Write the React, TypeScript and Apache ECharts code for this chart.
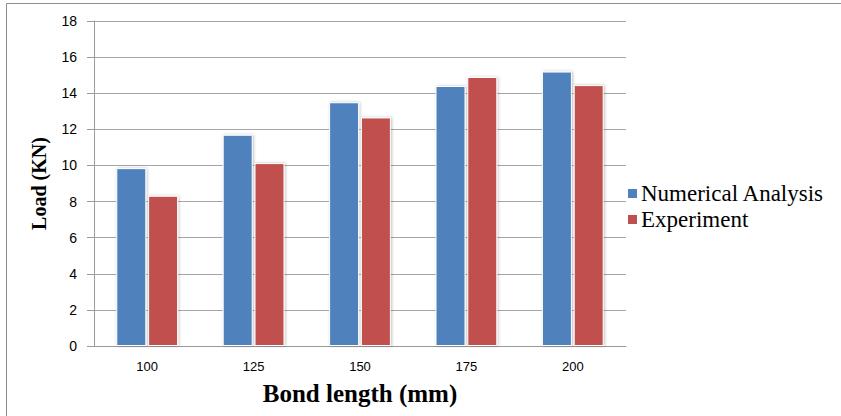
import React, { useEffect, useRef } from "react";
import * as echarts from "echarts";

const categories = ["100", "125", "150", "175", "200"];
const seriesNames = ["Numerical Analysis", "Experiment"];
const seriesColors = ["#4f81bd", "#c0504d"];
const numericalAnalysis = [9.85, 11.7, 13.5, 14.4, 15.2];
const experiment = [8.32, 10.13, 12.66, 14.9, 14.45];

const SERIF = "Liberation Serif";
const SANS = "Liberation Sans";

export default function App() {
  const ref = useRef<HTMLDivElement>(null);

  useEffect(() => {
    document.body.style.margin = "0";
    const chart = echarts.init(ref.current!, null, { renderer: "svg" });
    const barStyle = (color: string) => ({
      color,
      borderColor: "#ffffff",
      borderWidth: 1,
      shadowColor: "rgba(0,0,0,0.25)",
      shadowBlur: 3,
      shadowOffsetX: 1,
      shadowOffsetY: 0,
    });

    chart.setOption({
      animation: false,
      backgroundColor: "#ffffff",
      graphic: [
        {
          type: "polyline",
          shape: { points: [[6.5, 420], [6.5, 3.5], [850, 3.5]] },
          style: { stroke: "#8c8c8c", lineWidth: 1, fill: "none" },
        },
      ],
      legend: {
        orient: "vertical",
        left: 621,
        top: 177,
        itemWidth: 11,
        itemHeight: 11,
        itemGap: 3,
        icon: "rect",
        formatter: "{t|{name}}",
        textStyle: {
          color: "#000",
          rich: {
            t: { fontFamily: "serif", fontSize: 23, color: "#000", padding: [0, 0, 0, -2] },
          },
        },
        data: seriesNames,
      },
      grid: { left: 94, right: 215, top: 21, bottom: 70 },
      xAxis: {
        type: "category",
        data: categories,
        name: "Bond length (mm)",
        nameLocation: "middle",
        nameGap: 35,
        nameTextStyle: {
          fontFamily: SERIF,
          fontWeight: "bold",
          fontSize: 25,
          color: "#000",
        },
        axisLine: { lineStyle: { color: "#9a9a9a" } },
        axisTick: { show: false },
        axisLabel: { fontFamily: SANS, fontSize: 13, color: "#000", margin: 14 },
      },
      yAxis: {
        type: "value",
        min: 0,
        max: 18,
        interval: 2,
        name: "Load (KN)",
        nameLocation: "middle",
        nameGap: 45,
        nameTextStyle: {
          fontFamily: SERIF,
          fontWeight: "bold",
          fontSize: 20,
          color: "#000",
        },
        axisLine: { show: true, lineStyle: { color: "#9a9a9a" } },
        axisTick: { show: true, length: 7, lineStyle: { color: "#9a9a9a" } },
        axisLabel: { fontFamily: SANS, fontSize: 14, color: "#000", margin: 17 },
        splitLine: { lineStyle: { color: "#a6a6a6", width: 1 } },
      },
      series: [
        {
          name: seriesNames[0],
          type: "bar",
          data: numericalAnalysis,
          barWidth: 30,
          barGap: "6%",
          itemStyle: barStyle(seriesColors[0]),
        },
        {
          name: seriesNames[1],
          type: "bar",
          data: experiment,
          barWidth: 30,
          itemStyle: barStyle(seriesColors[1]),
        },
      ],
    });
    return () => chart.dispose();
  }, []);

  return <div ref={ref} style={{ width: 841, height: 416 }} />;
}
